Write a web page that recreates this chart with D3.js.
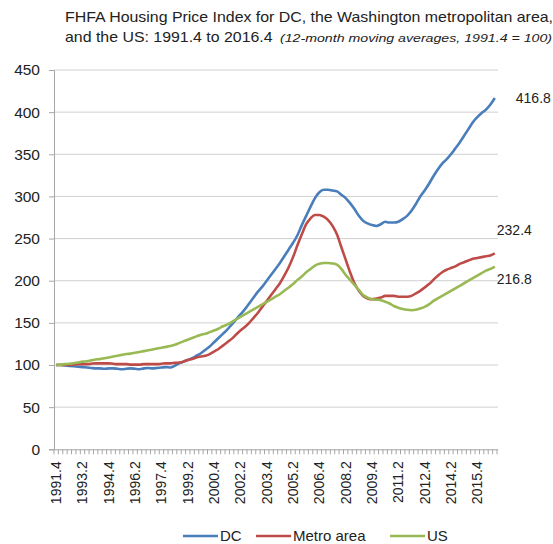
<!DOCTYPE html>
<html><head><meta charset="utf-8">
<script src="https://cdn.jsdelivr.net/npm/d3@7"></script>
<style>body{margin:0;background:#fff}svg{display:block}</style>
</head><body>
<svg id="c" width="553" height="544"></svg>
<script>
// quarters 1991.4 .. 2016.4
const quarters = [];
for (let y = 1991; y <= 2016; y++) for (let q = 1; q <= 4; q++) {
  if ((y === 1991 && q < 4)) continue;
  quarters.push(y + "." + q);
}
const tickLabels = ["1991.4","1993.2","1994.4","1996.2","1997.4","1999.2","2000.4","2002.2","2003.4","2005.2","2006.4","2008.2","2009.4","2011.2","2012.4","2014.2","2015.4"];
const yTicks = [0,50,100,150,200,250,300,350,400,450];
const seriesNames = ["DC","Metro area","US"];
const seriesColors = ["#4a7ebb","#be4b48","#98b954"];
const dc = [100,100,99.5,99,98.5,98,97.5,97,96.5,96,96,95.5,96,96,95.5,95,95.5,96,95.5,95,96,96.5,96,96.5,97,97.5,97,99,
  102,104,106,108,111,114,118,122,127,132,137,142,148,154,160,166,173,180,187,193,200,207,214,221,229,237,245,254,266,277,288,298,
  305,308,308,307,306,302,298,292,285,277,271,268,266,265,267,270,269,269,270,273,
  277,283,291,300,307,315,324,332,339,344,350,357,364,372,380,388,394,399,403,409,416.8];
const metro = [100,100,100,100,100.5,101,101,101,101.5,102,102,102,102,101.5,101,101,101,100.5,100.5,100.5,101,101,101,101,101.5,102,102,102.5,
  103,104,106,107,109,110,111,113,116,119,123,127,131,136,141,145,150,156,162,169,176,183,190,197,206,216,228,242,255,267,274,278,
  278,276,272,265,255,240,225,210,197,188,182,179,178,179,180,182,182,182,181,181,
  181,182,185,188,192,196,201,206,210,213,215,217,220,222,224,226,227,228,229,230,232.4];
const us = [100,100.5,101,101.5,102,103,104,104.5,105.5,106.5,107,108,109,110,111,112,113,113.5,114.5,115.5,116.5,117.5,118.5,119.5,120.5,121.5,122.5,124,
  126,128,130,132,134,136,137,139,141,143,146,148,151,154,157,160,163,166,169,172,175,178,181,184,188,192,196,201,205,210,214,218,
  220,221,221,220.5,219,214,207,201,195,189,183,180,178,177.5,177,175,173,170,168,166.5,
  165.5,165,165.5,167,169,172,176,179,182,185,188,191,194,197,200,203,206,209,212,214,216.8];
const seriesValues = [dc, metro, us];
const endLabels = ["416.8","232.4","216.8"];

const svg = d3.select("#c");
const font = "'Liberation Sans', Arial, sans-serif";
const x = d3.scaleBand().domain(quarters).range([54, 497]);
const y = d3.scaleLinear().domain([0, 450]).range([449.3, 70]);
const cx = q => x(q) + x.bandwidth() / 2;

// gridlines
svg.append("g").selectAll("line").data(yTicks.filter(d => d > 0)).join("line")
  .attr("x1", 54).attr("x2", 498).attr("y1", d => y(d)).attr("y2", d => y(d))
  .attr("stroke", "#d0d0d0").attr("stroke-width", 1);

// y axis
const ya = svg.append("g").attr("transform", "translate(54,0)")
  .call(d3.axisLeft(y).tickValues(yTicks).tickSize(5).tickPadding(9));
ya.select(".domain").attr("stroke", "#a6a6a6");
ya.selectAll(".tick line").attr("stroke", "#a6a6a6");
ya.selectAll("text").attr("font-family", font).attr("font-size", 15.5).attr("fill", "#222");

// x axis
const xa = svg.append("g").attr("transform", "translate(0," + y(0) + ")")
  .call(d3.axisBottom(x).tickValues(tickLabels).tickSize(0).tickPadding(0));
xa.select(".domain").attr("stroke", "#a6a6a6").attr("d", "M54,0.5H498");
xa.selectAll("text").attr("font-family", font).attr("font-size", 14).attr("fill", "#222")
  .attr("transform", "rotate(-90)").attr("text-anchor", "end").attr("x", -12).attr("y", 0).attr("dy", "0.35em");
// category boundary ticks
svg.append("g").selectAll("line").data(quarters.concat(["end"])).join("line")
  .attr("x1", d => d === "end" ? 497 : x(d)).attr("x2", d => d === "end" ? 497 : x(d))
  .attr("y1", y(0)).attr("y2", y(0) + 5).attr("stroke", "#a6a6a6").attr("stroke-width", 1);

// lines
const line = d3.line().x((d, i) => cx(quarters[i])).y(d => y(d)).curve(d3.curveMonotoneX);
seriesValues.forEach((vals, k) => {
  svg.append("path").datum(vals).attr("d", line).attr("fill", "none")
    .attr("stroke", seriesColors[k]).attr("stroke-width", 2.6).attr("stroke-linejoin", "round");
});

// end labels
const labelDx = [21, 2, 2];
const labelDy = [0, -23, 13];
seriesValues.forEach((vals, k) => {
  svg.append("text").attr("x", cx(quarters[quarters.length - 1]) + labelDx[k])
    .attr("y", y(vals[vals.length - 1]) + labelDy[k]).attr("dy", "0.35em")
    .attr("font-family", font).attr("font-size", 14).attr("fill", "#222").text(endLabels[k]);
});

// title
const t1 = svg.append("text").attr("x", 65).attr("y", 22).attr("font-family", font).attr("font-size", 14.5).attr("fill", "#222")
  .attr("textLength", 488).attr("lengthAdjust", "spacingAndGlyphs")
  .text("FHFA Housing Price Index for DC, the Washington metropolitan area,");
const t2 = svg.append("text").attr("x", 65).attr("y", 42).attr("font-family", font).attr("fill", "#222");
t2.append("tspan").attr("font-size", 14.5).attr("textLength", 212).attr("lengthAdjust", "spacingAndGlyphs")
  .text("and the US: 1991.4 to 2016.4 ");
t2.append("tspan").attr("x", 280).attr("font-size", 11.5).attr("font-style", "italic").attr("textLength", 272).attr("lengthAdjust", "spacingAndGlyphs")
  .text("(12-month moving  averages, 1991.4  = 100)");

// legend
const legX = [183, 256, 390];
const lg = svg.append("g").attr("transform", "translate(0,536)");
seriesNames.forEach((n, k) => {
  lg.append("line").attr("x1", legX[k]).attr("x2", legX[k] + 35).attr("y1", 0).attr("y2", 0)
    .attr("stroke", seriesColors[k]).attr("stroke-width", 2.6);
  lg.append("text").attr("x", legX[k] + 37).attr("y", 0).attr("dy", "0.35em")
    .attr("font-family", font).attr("font-size", 15).attr("fill", "#222").text(n);
});
</script>
</body></html>
